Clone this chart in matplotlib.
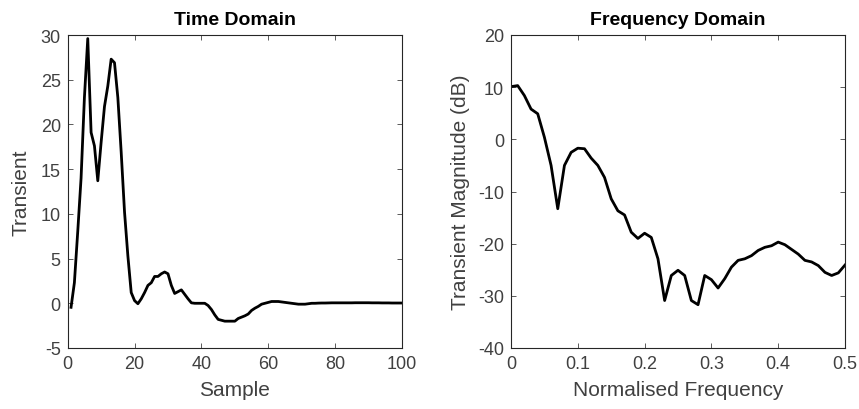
import numpy as np
import matplotlib.pyplot as plt

plt.rcParams['font.family'] = ['Liberation Sans', 'DejaVu Sans']
plt.rcParams['axes.unicode_minus'] = False

# time domain transient, samples 1..100
sample = np.arange(1, 101)
transient = [-0.45, 2.3, 8.0, 14.0, 23.0, 29.6, 19.1, 17.6, 13.7, 18.0,
             22.0, 24.3, 27.3, 26.9, 23.0, 16.9, 10.2, 5.3, 1.2, 0.3,
             -0.05, 0.5, 1.2, 2.0, 2.3, 3.0, 3.0, 3.3, 3.5, 3.3,
             2.0, 1.1, 1.3, 1.5, 1.0, 0.5, 0.05, 0.0, 0.0, 0.0,
             0.0, -0.25, -0.7, -1.3, -1.8, -1.9, -2.0, -2.0, -2.0, -2.0,
             -1.7, -1.55, -1.4, -1.2, -0.8, -0.55, -0.35, -0.1, 0.0, 0.1,
             0.2, 0.2, 0.2, 0.15, 0.1, 0.05, 0.0, -0.05, -0.1, -0.1,
             -0.1, -0.05, 0.0, 0.0, 0.02, 0.03, 0.03, 0.04, 0.05, 0.05,
             0.05, 0.05, 0.05, 0.05, 0.05, 0.06, 0.06, 0.06, 0.06, 0.06,
             0.05, 0.05, 0.05, 0.04, 0.04, 0.04, 0.03, 0.03, 0.03, 0.03]

# magnitude spectrum in dB
freq = np.arange(51) / 100
mag_db = [10.1, 10.3, 8.4, 5.8, 4.9, 0.4, -5.0, -13.3, -5.0, -2.5,
          -1.7, -1.8, -3.6, -5.0, -7.3, -11.4, -13.7, -14.5, -17.8, -19.0,
          -18.0, -18.8, -22.9, -30.9, -26.1, -25.1, -26.1, -30.9, -31.7, -26.1,
          -26.9, -28.5, -26.7, -24.5, -23.2, -22.9, -22.3, -21.3, -20.7, -20.4,
          -19.7, -20.2, -21.1, -22.0, -23.2, -23.5, -24.2, -25.5, -26.1, -25.6,
          -24.1]

axcol = '#262626'

fig = plt.figure(figsize=(8.59, 4.10), dpi=100)
ax1 = fig.add_axes([67.7 / 859, 61 / 410, 334.3 / 859, 313 / 410])
ax2 = fig.add_axes([511 / 859, 61 / 410, 334 / 859, 313 / 410])


def style(ax):
    for sp in ax.spines.values():
        sp.set_color(axcol)
        sp.set_linewidth(0.8)
    ax.tick_params(direction='in', top=True, right=True, length=3.5,
                   width=0.6, colors='#404040', labelsize=13, pad=5)


ax1.plot(sample, transient, color='black', lw=2.0)
ax1.set_xlim(0, 100)
ax1.set_ylim(-5, 30)
ax1.set_xticks(np.arange(0, 101, 20))
ax1.set_yticks(np.arange(-5, 31, 5))
ax1.set_xlabel('Sample', fontsize=15, color='#404040', labelpad=6)
ax1.set_ylabel('Transient', fontsize=15, color='#404040', labelpad=7)
ax1.set_title('Time Domain', fontsize=14, fontweight='bold', pad=8)
style(ax1)

ax2.plot(freq, mag_db, color='black', lw=2.0)
ax2.set_xlim(0, 0.5)
ax2.set_ylim(-40, 20)
ax2.set_xticks(np.arange(0, 0.51, 0.1))
ax2.set_xticklabels(['0', '0.1', '0.2', '0.3', '0.4', '0.5'])
ax2.set_yticks(np.arange(-40, 21, 10))
ax2.set_xlabel('Normalised Frequency', fontsize=15, color='#404040', labelpad=6)
ax2.set_ylabel('Transient Magnitude (dB)', fontsize=15, color='#404040', labelpad=6)
ax2.set_title('Frequency Domain', fontsize=14, fontweight='bold', pad=8)
style(ax2)

fig.savefig('out.png', dpi=100)
